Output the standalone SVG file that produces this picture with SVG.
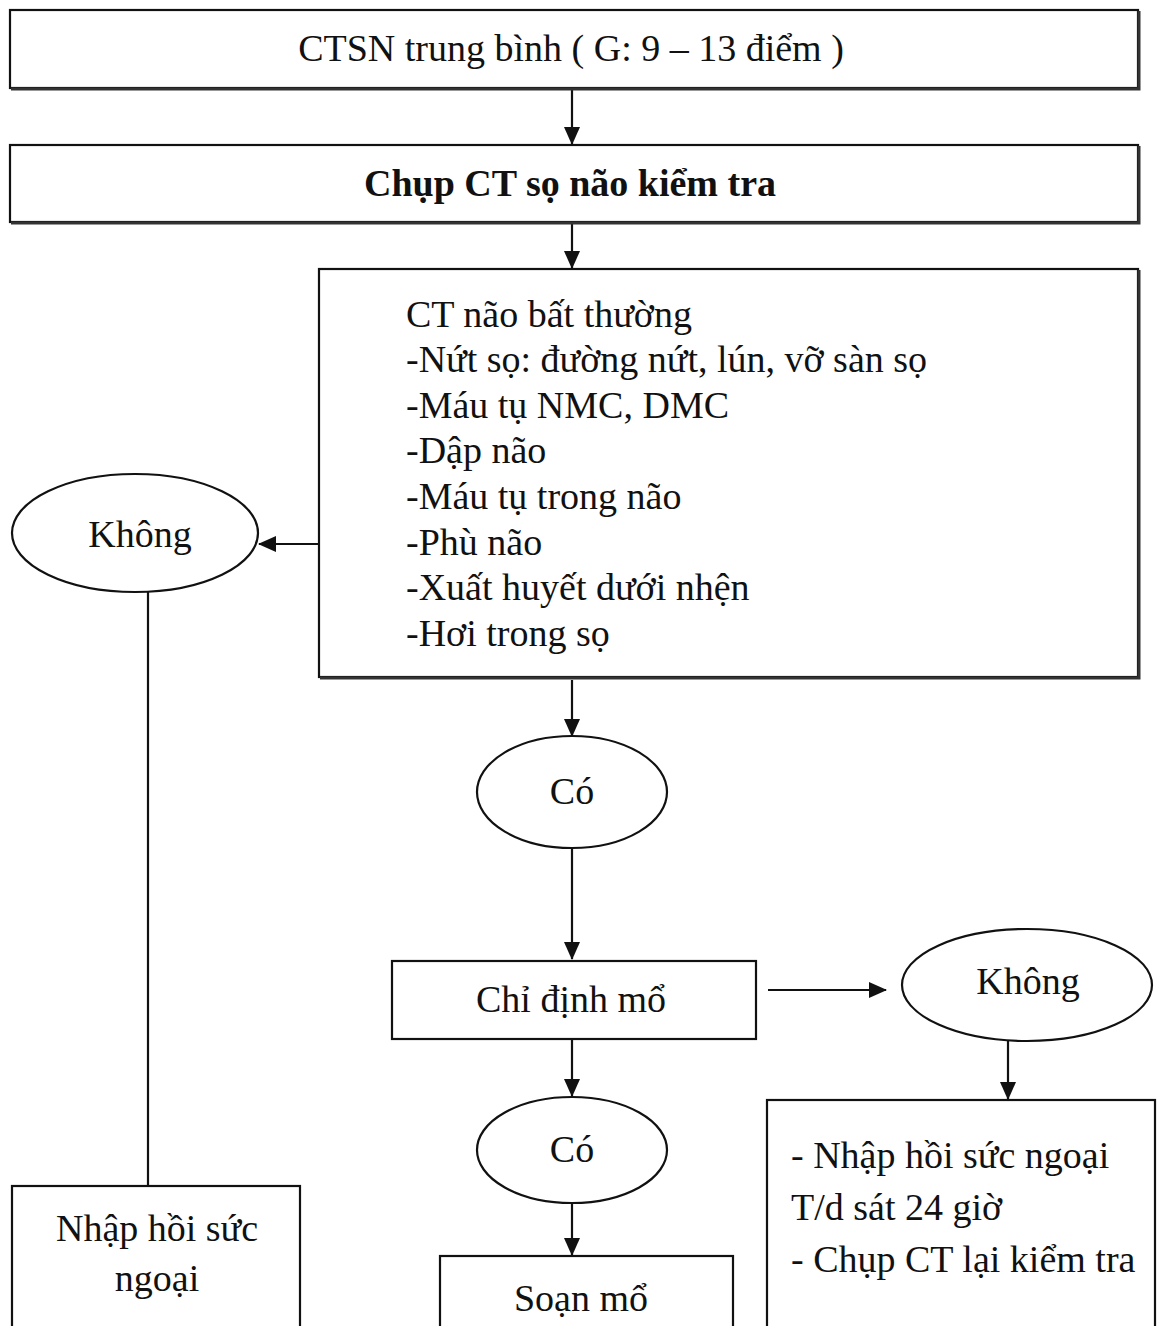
<svg xmlns="http://www.w3.org/2000/svg" width="1157" height="1326" viewBox="0 0 1157 1326">
  <style>
    .box { fill: #fff; stroke: #111; stroke-width: 2.2; }
    .shadow { fill: none; stroke: #333; stroke-width: 3; }
    .oval { fill: #fff; stroke: #111; stroke-width: 2.2; }
    .t { font-family: "Liberation Serif", "Times New Roman", serif; font-size: 38px; fill: #111; }
    .c { text-anchor: middle; }
    .b { font-weight: bold; }
    .line { stroke: #111; stroke-width: 2.2; fill: none; }
  </style>
  <defs>
    <marker id="arrow" viewBox="0 0 18 16" refX="17" refY="8" markerWidth="18" markerHeight="16" markerUnits="userSpaceOnUse" orient="auto">
      <path d="M0,0 L18,8 L0,16 Z" fill="#111"/>
    </marker>
  </defs>
  <rect width="1157" height="1326" fill="#fff"/>

  <g id="connectors">
    <line class="line" x1="572" y1="90" x2="572" y2="144" marker-end="url(#arrow)"/>
    <line class="line" x1="572" y1="224" x2="572" y2="268" marker-end="url(#arrow)"/>
    <line class="line" x1="319" y1="544" x2="259" y2="544" marker-end="url(#arrow)"/>
    <line class="line" x1="148" y1="592" x2="148" y2="1186"/>
    <line class="line" x1="572" y1="680" x2="572" y2="736" marker-end="url(#arrow)"/>
    <line class="line" x1="572" y1="848" x2="572" y2="959" marker-end="url(#arrow)"/>
    <line class="line" x1="768" y1="990" x2="886" y2="990" marker-end="url(#arrow)"/>
    <line class="line" x1="572" y1="1040" x2="572" y2="1096" marker-end="url(#arrow)"/>
    <line class="line" x1="1008" y1="1041" x2="1008" y2="1099" marker-end="url(#arrow)"/>
    <line class="line" x1="572" y1="1204" x2="572" y2="1255" marker-end="url(#arrow)"/>
  </g>

  <g id="node-ctsn">
    <rect class="box" x="10" y="10" width="1128" height="78"/>
    <path class="shadow" d="M11,89 H1139 V11"/>
    <text class="t c" x="571" y="61">CTSN trung bình ( G: 9 – 13 điểm )</text>
  </g>

  <g id="node-chup-ct">
    <rect class="box" x="10" y="145" width="1128" height="77"/>
    <path class="shadow" d="M11,223 H1139 V146"/>
    <text class="t c b" x="570" y="196">Chụp CT sọ não kiểm tra</text>
  </g>

  <g id="node-ct-bat-thuong">
    <rect class="box" x="319" y="269" width="819" height="408"/>
    <path class="shadow" d="M320,678 H1139 V270"/>
    <text class="t" x="406" y="327">CT não bất thường</text>
    <text class="t" x="406" y="372">-Nứt sọ: đường nứt, lún, vỡ sàn sọ</text>
    <text class="t" x="406" y="418">-Máu tụ NMC, DMC</text>
    <text class="t" x="406" y="463">-Dập não</text>
    <text class="t" x="406" y="509">-Máu tụ trong não</text>
    <text class="t" x="406" y="555">-Phù não</text>
    <text class="t" x="406" y="600">-Xuất huyết dưới nhện</text>
    <text class="t" x="406" y="646">-Hơi trong sọ</text>
  </g>

  <g id="node-khong-1">
    <ellipse class="oval" cx="135" cy="533" rx="123" ry="59"/>
    <text class="t c" x="140" y="547">Không</text>
  </g>

  <g id="node-nhap-hoi-suc">
    <rect class="box" x="12" y="1186" width="288" height="150"/>
    <text class="t c" x="157" y="1241">Nhập hồi sức</text>
    <text class="t c" x="157" y="1291">ngoại</text>
  </g>

  <g id="node-co-1">
    <ellipse class="oval" cx="572" cy="792" rx="95" ry="56"/>
    <text class="t c" x="572" y="804">Có</text>
  </g>

  <g id="node-chi-dinh-mo">
    <rect class="box" x="392" y="961" width="364" height="78"/>
    <text class="t c" x="571" y="1012">Chỉ định mổ</text>
  </g>

  <g id="node-khong-2">
    <ellipse class="oval" cx="1027" cy="985" rx="125" ry="56"/>
    <text class="t c" x="1028" y="994">Không</text>
  </g>

  <g id="node-co-2">
    <ellipse class="oval" cx="572" cy="1150" rx="95" ry="53"/>
    <text class="t c" x="572" y="1162">Có</text>
  </g>

  <g id="node-soan-mo">
    <rect class="box" x="440" y="1256" width="293" height="80"/>
    <text class="t c" x="581" y="1311">Soạn mổ</text>
  </g>

  <g id="node-theo-doi">
    <rect class="box" x="767" y="1100" width="388" height="236"/>
    <text class="t" x="791" y="1168">- Nhập hồi sức ngoại</text>
    <text class="t" x="791" y="1220">T/d sát 24 giờ</text>
    <text class="t" x="791" y="1272">- Chụp CT lại kiểm tra</text>
  </g>
</svg>
